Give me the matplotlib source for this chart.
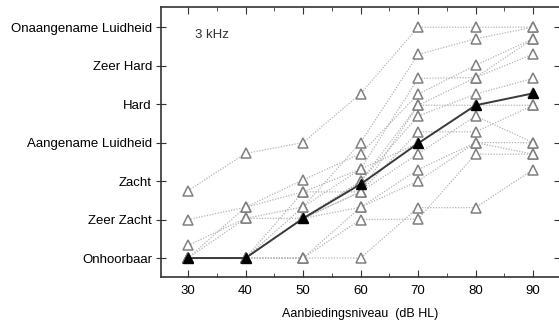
import numpy as np
import matplotlib
matplotlib.use("Agg")
import matplotlib.pyplot as plt
from matplotlib.ticker import MultipleLocator

plt.rcParams['font.family'] = ['Liberation Sans', 'DejaVu Sans']

# presentation levels (dB HL)
levels = [30, 40, 50, 60, 70, 80, 90]

# loudness categories (0 = Onhoorbaar ... 6 = Onaangename Luidheid)
categories = ["Onhoorbaar", "Zeer Zacht", "Zacht", "Aangename Luidheid",
              "Hard", "Zeer Hard", "Onaangename Luidheid"]

# individual listeners
subjects = [
    [1.75, 2.72, 3.00, 4.27, 6.00, 6.00, 6.00],
    [1.00, 1.32, 2.03, 2.71, 4.26, 5.01, 5.70],
    [0.33, 1.03, 1.03, 1.72, 3.28, 3.28, 3.97],
    [0.00, 1.32, 1.72, 1.72, 3.97, 3.97, 3.97],
    [0.00, 1.03, 1.33, 2.31, 4.67, 4.69, 5.30],
    [0.00, 0.00, 1.03, 1.99, 3.69, 4.26, 4.67],
    [0.00, 0.00, 0.00, 0.00, 1.31, 1.31, 2.30],
    [0.00, 0.00, 0.00, 1.00, 1.01, 2.70, 2.70],
    [0.00, 0.00, 1.03, 1.32, 2.00, 3.00, 3.00],
    [0.00, 0.00, 1.33, 3.00, 5.29, 5.70, 6.00],
    [0.00, 0.00, 1.03, 1.72, 2.71, 3.69, 3.00],
    [0.00, 0.00, 0.00, 1.32, 2.30, 3.00, 2.70],
    [0.00, 0.00, 1.72, 2.31, 2.98, 3.97, 4.28],
    [0.00, 0.00, 1.03, 1.99, 3.97, 4.69, 5.70],
]

# median curve
median = [0.00, 0.00, 1.03, 1.92, 2.98, 3.97, 4.28]

fig = plt.figure(figsize=(5.59, 3.25), dpi=100)
ax = fig.add_axes([0.288, 0.148, 0.712, 0.830])

for s in subjects:
    ax.plot(levels, s, linestyle=(0, (1, 1.2)), color='#b4b4b4', linewidth=0.9, zorder=1)
for s in subjects:
    ax.plot(levels, s, linestyle='none', marker='^', markersize=6.5,
            markerfacecolor='white', markeredgecolor='#808080',
            markeredgewidth=1.1, zorder=2)

ax.plot(levels, median, color='#3a3a3a', linewidth=1.4, marker='^',
        markersize=6.5, markerfacecolor='black', markeredgecolor='black', zorder=3)

ax.set_xlim(25.3, 94.5)
ax.set_ylim(-0.49, 6.52)

ax.set_xticks(levels)
ax.xaxis.set_minor_locator(MultipleLocator(5))
ax.set_yticks(range(len(categories)))
ax.set_yticklabels(categories)

ax.tick_params(axis='x', which='major', direction='in', length=5, top=True,
               labelsize=9.5, pad=6, color='#333333')
ax.tick_params(axis='x', which='minor', direction='in', length=3, top=True,
               color='#333333')
ax.tick_params(axis='y', which='major', direction='inout', length=7, right=True,
               labelsize=9.5, pad=3, color='#333333')

for side in ['left', 'top', 'bottom']:
    ax.spines[side].set_linewidth(1.2)
    ax.spines[side].set_color('#333333')
ax.spines['right'].set_visible(False)

ax.set_xlabel("Aanbiedingsniveau  (dB HL)", fontsize=9, labelpad=8)
ax.text(31.2, 5.8, "3 kHz", fontsize=9.5, color='#333333', va='center')

fig.savefig("out.png", dpi=100)
